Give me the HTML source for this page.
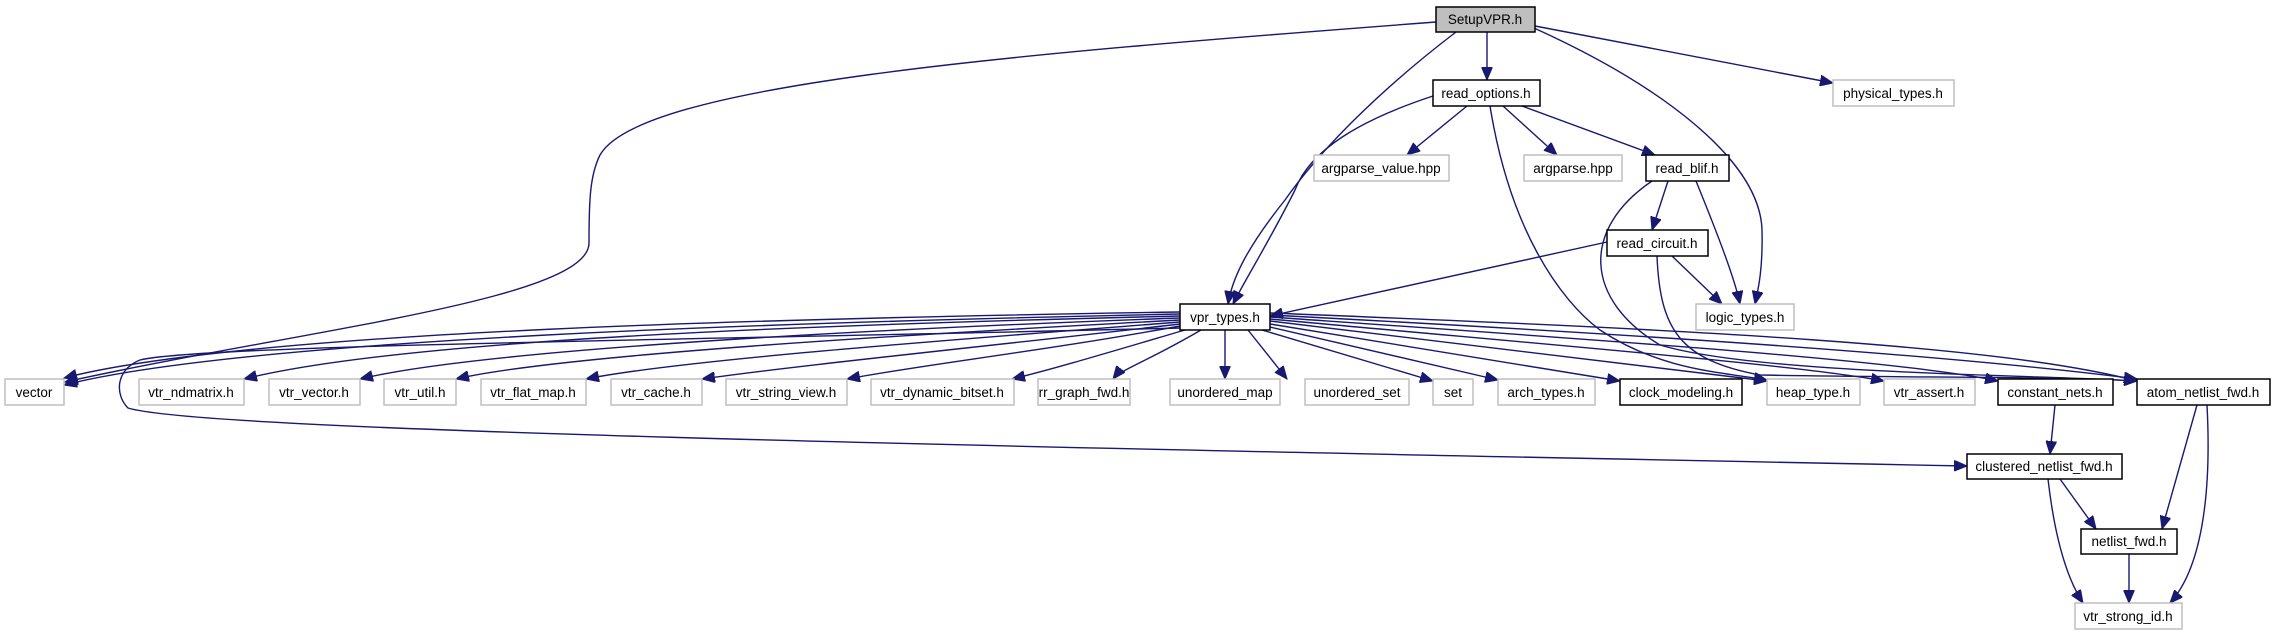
<!DOCTYPE html>
<html><head><meta charset="utf-8"><style>
html,body{margin:0;padding:0;background:#fff;}
svg{display:block;}
text{font-family:"Liberation Sans",sans-serif;font-size:13.5px;fill:#000;text-anchor:middle;}
.g{fill:#fff;stroke:#bfbfbf;stroke-width:1.5;}
.b{fill:#fff;stroke:#000;stroke-width:1.5;}
.e{fill:none;stroke:#191970;stroke-width:1.4;}
</style></head><body>
<svg width="2275" height="635" viewBox="0 0 2275 635" xmlns="http://www.w3.org/2000/svg">
<defs>
<marker id="a" markerUnits="userSpaceOnUse" markerWidth="14" markerHeight="11" refX="13" refY="5.5" orient="auto">
<path d="M0,0 L13,5.5 L0,11 Z" fill="#191970" stroke="#191970"/>
</marker>
</defs>
<g marker-end="url(#a)">
<path class="e" d="M1436,22 C1000,55 640,85 600,155 C590,175 589,200 589,243 C589,300 300,330 65,382"/>
<path class="e" d="M1456,32 C1380,90 1320,150 1285,200 C1245,250 1232,280 1228,304"/>
<path class="e" d="M1487,32 L1487,80"/>
<path class="e" d="M1534,28 C1660,85 1760,160 1762,230 C1763,270 1758,290 1755,304"/>
<path class="e" d="M1535,26 L1833,83"/>
<path class="e" d="M1433,96 C1360,120 1310,150 1295,190 C1270,240 1245,280 1233,304"/>
<path class="e" d="M1467,106 L1407,155"/>
<path class="e" d="M1503,106 L1557,155"/>
<path class="e" d="M1522,106 L1655,155"/>
<path class="e" d="M1490,106 C1510,230 1560,300 1600,330 C1660,370 1720,372 1767,380"/>
<path class="e" d="M1668,181 L1652,230"/>
<path class="e" d="M1696,181 C1720,240 1735,280 1740,304"/>
<path class="e" d="M1652,181 C1580,230 1585,300 1660,345 C1760,375 2050,375 2137,381"/>
<path class="e" d="M1607,242 L1270,316"/>
<path class="e" d="M1672,256 L1722,304"/>
<path class="e" d="M1657,256 C1660,330 1680,360 1760,375 C1900,378 2050,376 2137,381"/>
<path class="e" d="M1180,312 C800,318 250,330 64,378"/>
<path class="e" d="M1180,314 C800,322 250,338 64,385"/>
<path class="e" d="M1180,316 C800,325 400,340 244,379"/>
<path class="e" d="M1180,318 C850,330 480,350 360,379"/>
<path class="e" d="M1180,320 C900,335 560,355 456,379"/>
<path class="e" d="M1180,322 C950,340 680,360 586,379"/>
<path class="e" d="M1180,324 C1000,345 800,365 702,379"/>
<path class="e" d="M1180,326 C1050,350 920,365 847,379"/>
<path class="e" d="M1185,330 C1100,355 1050,370 1012,379"/>
<path class="e" d="M1201,330 C1150,360 1120,370 1113,379"/>
<path class="e" d="M1225,330 L1225,379"/>
<path class="e" d="M1248,330 L1287,379"/>
<path class="e" d="M1262,330 L1433,381"/>
<path class="e" d="M1270,327 L1498,380"/>
<path class="e" d="M1270,324 L1620,381"/>
<path class="e" d="M1270,321 C1500,350 1700,372 1767,381"/>
<path class="e" d="M1270,319 C1550,345 1800,365 1884,381"/>
<path class="e" d="M1270,317 C1600,340 1900,360 1998,381"/>
<path class="e" d="M1270,315 C1650,335 1950,355 2137,379"/>
<path class="e" d="M1270,313 C1700,330 2000,345 2137,381"/>
<path class="e" d="M1180,328 C700,340 200,345 140,360 C115,370 115,395 128,408 C200,430 900,445 1967,466"/>
<path class="e" d="M2055,405 L2050,454"/>
<path class="e" d="M2060,479 L2096,529"/>
<path class="e" d="M2048,479 C2055,540 2068,580 2083,603"/>
<path class="e" d="M2197,405 L2162,529"/>
<path class="e" d="M2207,405 C2212,500 2200,570 2170,603"/>
<path class="e" d="M2129,554 L2129,603"/>
</g>
<rect x="1436" y="7" width="99" height="25" fill="#bfbfbf" stroke="#000" stroke-width="1.5"/><text x="1485" y="24">SetupVPR.h</text>
<rect class="b" x="1433" y="80" width="107" height="26"/><text x="1486" y="98">read_options.h</text>
<rect class="g" x="1833" y="80" width="121" height="26"/><text x="1893" y="98">physical_types.h</text>
<rect class="g" x="1314" y="155" width="135" height="26"/><text x="1381" y="173">argparse_value.hpp</text>
<rect class="g" x="1524" y="155" width="98" height="26"/><text x="1573" y="173">argparse.hpp</text>
<rect class="b" x="1646" y="155" width="83" height="26"/><text x="1687" y="173">read_blif.h</text>
<rect class="b" x="1607" y="230" width="101" height="26"/><text x="1657" y="248">read_circuit.h</text>
<rect class="g" x="1696" y="304" width="98" height="26"/><text x="1745" y="322">logic_types.h</text>
<rect class="b" x="1180" y="304" width="90" height="26"/><text x="1225" y="322">vpr_types.h</text>
<rect class="g" x="5" y="379" width="59" height="26"/><text x="34" y="397">vector</text>
<rect class="g" x="139" y="379" width="105" height="26"/><text x="191" y="397">vtr_ndmatrix.h</text>
<rect class="g" x="269" y="379" width="91" height="26"/><text x="314" y="397">vtr_vector.h</text>
<rect class="g" x="384" y="379" width="72" height="26"/><text x="420" y="397">vtr_util.h</text>
<rect class="g" x="481" y="379" width="105" height="26"/><text x="533" y="397">vtr_flat_map.h</text>
<rect class="g" x="611" y="379" width="91" height="26"/><text x="656" y="397">vtr_cache.h</text>
<rect class="g" x="726" y="379" width="121" height="26"/><text x="786" y="397">vtr_string_view.h</text>
<rect class="g" x="871" y="379" width="143" height="26"/><text x="942" y="397">vtr_dynamic_bitset.h</text>
<rect class="g" x="1038" y="379" width="92" height="26"/><text x="1084" y="397">rr_graph_fwd.h</text>
<rect class="g" x="1170" y="379" width="110" height="26"/><text x="1225" y="397">unordered_map</text>
<rect class="g" x="1305" y="379" width="104" height="26"/><text x="1357" y="397">unordered_set</text>
<rect class="g" x="1433" y="379" width="40" height="26"/><text x="1453" y="397">set</text>
<rect class="g" x="1498" y="379" width="97" height="26"/><text x="1546" y="397">arch_types.h</text>
<rect class="b" x="1620" y="379" width="122" height="26"/><text x="1681" y="397">clock_modeling.h</text>
<rect class="g" x="1767" y="379" width="93" height="26"/><text x="1813" y="397">heap_type.h</text>
<rect class="g" x="1884" y="379" width="91" height="26"/><text x="1929" y="397">vtr_assert.h</text>
<rect class="b" x="1998" y="379" width="115" height="26"/><text x="2055" y="397">constant_nets.h</text>
<rect class="b" x="2137" y="379" width="133" height="26"/><text x="2203" y="397">atom_netlist_fwd.h</text>
<rect class="b" x="1967" y="454" width="155" height="25"/><text x="2044" y="471">clustered_netlist_fwd.h</text>
<rect class="b" x="2081" y="529" width="96" height="25"/><text x="2129" y="546">netlist_fwd.h</text>
<rect class="g" x="2075" y="603" width="107" height="26"/><text x="2128" y="621">vtr_strong_id.h</text>
</svg>
</body></html>
